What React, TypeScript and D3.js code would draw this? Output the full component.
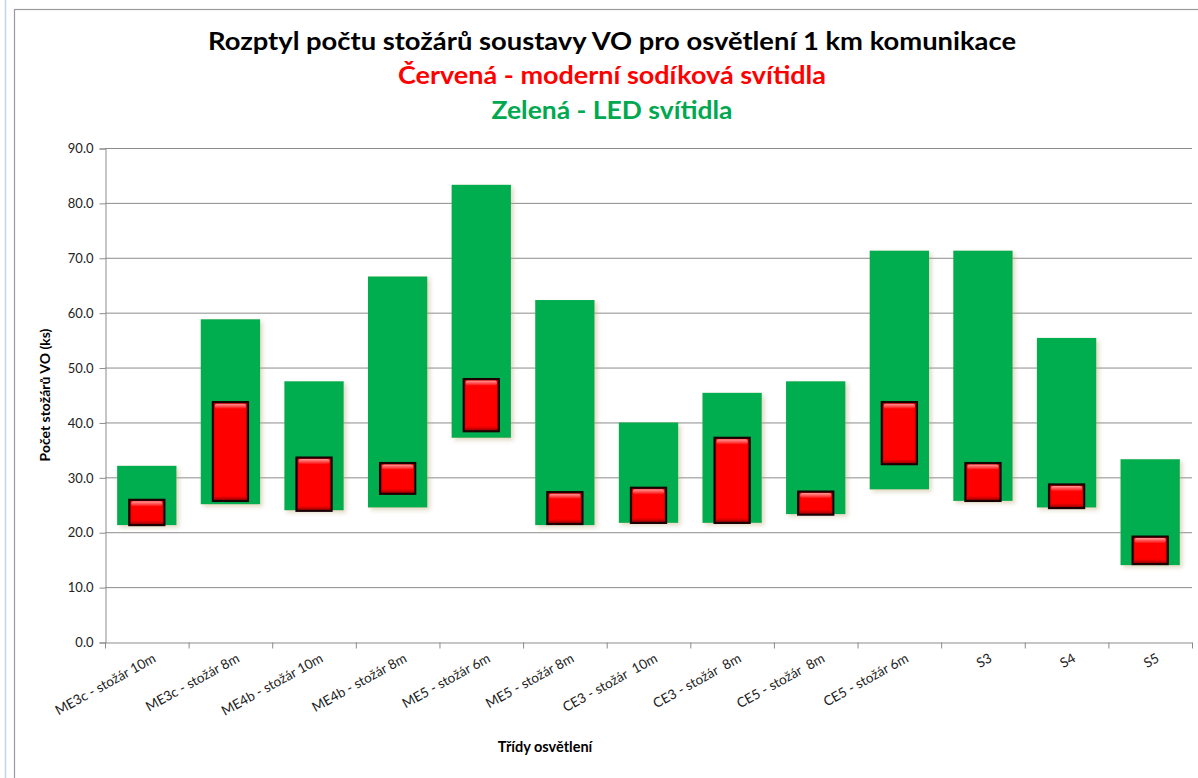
import React, { useEffect, useRef } from "react";
import * as d3 from "d3";

// Categories (light classes / pole heights)
const categories = [
  "ME3c - stožár 10m",
  "ME3c - stožár 8m",
  "ME4b - stožár 10m",
  "ME4b - stožár 8m",
  "ME5 - stožár 6m",
  "ME5 - stožár 8m",
  "CE3 - stožár  10m",
  "CE3 - stožár  8m",
  "CE5 - stožár  8m",
  "CE5 - stožár 6m",
  "S3",
  "S4",
  "S5",
];

// Green = LED luminaires (range min..max)
const ledMin = [21.3, 25.1, 24.0, 24.5, 37.2, 21.3, 21.7, 21.7, 23.3, 27.8, 25.7, 24.5, 14.0];
const ledMax = [32.1, 58.8, 47.5, 66.6, 83.3, 62.3, 40.0, 45.4, 47.5, 71.3, 71.3, 55.4, 33.3];

// Red = modern sodium luminaires (range min..max)
const sodiumMin = [21.3, 25.7, 23.9, 27.0, 38.4, 21.5, 21.7, 21.7, 23.2, 32.4, 25.7, 24.4, 14.2];
const sodiumMax = [25.9, 43.7, 33.6, 32.6, 47.9, 27.3, 28.1, 37.2, 27.4, 43.7, 32.6, 28.7, 19.2];

const yTicks = [0, 10, 20, 30, 40, 50, 60, 70, 80, 90];

const FONT = "Lato, 'Open Sans', sans-serif";

function drawChart(svgEl: SVGSVGElement) {
  const width = 1198,
    height = 778,
    left = 105,
    right = 1192,
    top = 148,
    bottom = 642;

  const svg = d3.select(svgEl).attr("width", width).attr("height", height);
  svg.selectAll("*").remove();

  const defs = svg.append("defs");

  // soft beige shadow behind the green bars
  const shadow = defs.append("filter").attr("id", "greenShadow").attr("x", "-20%").attr("y", "-20%").attr("width", "140%").attr("height", "140%");
  shadow
    .append("feDropShadow")
    .attr("dx", 2.5)
    .attr("dy", 2.5)
    .attr("stdDeviation", 2)
    .attr("flood-color", "#b8a878")
    .attr("flood-opacity", 0.45);

  // highlight on top of red bars
  const hl = defs.append("linearGradient").attr("id", "redTop").attr("x1", 0).attr("y1", 0).attr("x2", 0).attr("y2", 1);
  hl.append("stop").attr("offset", "0%").attr("stop-color", "#ff9a9a");
  hl.append("stop").attr("offset", "100%").attr("stop-color", "#ff0d0d");

  const sh = defs.append("linearGradient").attr("id", "redBottom").attr("x1", 0).attr("y1", 0).attr("x2", 0).attr("y2", 1);
  sh.append("stop").attr("offset", "0%").attr("stop-color", "#ff0000");
  sh.append("stop").attr("offset", "100%").attr("stop-color", "#a40000");

  const side = defs.append("linearGradient").attr("id", "redSide").attr("x1", 0).attr("y1", 0).attr("x2", 1).attr("y2", 0);
  side.append("stop").attr("offset", "0%").attr("stop-color", "#c00000");
  side.append("stop").attr("offset", "8%").attr("stop-color", "#ff0000");
  side.append("stop").attr("offset", "92%").attr("stop-color", "#ff0000");
  side.append("stop").attr("offset", "100%").attr("stop-color", "#c00000");

  // background + chart frame
  svg.append("rect").attr("width", width).attr("height", height).attr("fill", "#ffffff");
  svg.append("line").attr("x1", 5.5).attr("x2", 5.5).attr("y1", 0).attr("y2", height).attr("stroke", "#c5d3e6").attr("stroke-width", 1.5);
  svg
    .append("rect")
    .attr("x", 14.5)
    .attr("y", 9.5)
    .attr("width", width)
    .attr("height", height)
    .attr("fill", "#ffffff")
    .attr("stroke", "#9a9a9a")
    .attr("stroke-width", 1.2);

  // scales
  const x = d3.scaleBand().domain(categories).range([left, right]).padding(0);
  const y = d3.scaleLinear().domain([0, 90]).range([bottom, top]);
  const bw = x.bandwidth();
  const greenW = bw * 0.71;
  const redW = bw * 0.42;

  // gridlines
  svg
    .append("g")
    .selectAll("line")
    .data(yTicks.filter((d) => d > 0))
    .enter()
    .append("line")
    .attr("x1", left)
    .attr("x2", right)
    .attr("y1", (d) => y(d) + 0.5)
    .attr("y2", (d) => y(d) + 0.5)
    .attr("stroke", "#8c8c8c")
    .attr("stroke-width", 1);

  // y axis
  const yAxis = d3
    .axisLeft(y)
    .tickValues(yTicks)
    .tickFormat((d) => d3.format(".1f")(d as number))
    .tickSize(6)
    .tickPadding(6);
  const gy = svg.append("g").attr("transform", "translate(" + (left + 0.5) + ",0.5)").call(yAxis);
  gy.select(".domain").attr("stroke", "#8c8c8c");
  gy.selectAll(".tick line").attr("stroke", "#8c8c8c");
  gy.selectAll(".tick text").attr("font-family", FONT).attr("font-size", "13px").attr("fill", "#222");

  // x axis
  const xAxis = d3.axisBottom(x).tickValues([]).tickSizeOuter(0);
  const gx = svg.append("g").attr("transform", "translate(0," + (bottom + 0.5) + ")").call(xAxis);
  gx.select(".domain").attr("stroke", "#8c8c8c");
  const boundaries = categories.map((c) => x(c) as number).concat([right]);
  gx.selectAll(".btick")
    .data(boundaries)
    .enter()
    .append("line")
    .attr("x1", (d) => d + 0.5)
    .attr("x2", (d) => d + 0.5)
    .attr("y1", 0)
    .attr("y2", 6)
    .attr("stroke", "#8c8c8c");

  // x labels, rotated
  svg
    .append("g")
    .selectAll("text")
    .data(categories)
    .enter()
    .append("text")
    .attr("transform", (d) => "translate(" + ((x(d) as number) + bw / 2 + 10) + "," + (bottom + 19) + ") rotate(-29)")
    .attr("text-anchor", "end")
    .attr("font-family", FONT)
    .attr("font-size", "13.5px")
    .attr("fill", "#222")
    .style("white-space", "pre")
    .text((d) => d);

  // green LED range bars
  svg
    .append("g")
    .selectAll("rect")
    .data(categories)
    .enter()
    .append("rect")
    .attr("x", (d) => (x(d) as number) + (bw - greenW) / 2)
    .attr("y", (d, i) => y(ledMax[i]))
    .attr("width", greenW)
    .attr("height", (d, i) => y(ledMin[i]) - y(ledMax[i]))
    .attr("fill", "#00ad4f")
    .attr("filter", "url(#greenShadow)");

  // red sodium range bars
  const red = svg
    .append("g")
    .selectAll("g")
    .data(categories)
    .enter()
    .append("g")
    .attr("transform", (d, i) => "translate(" + ((x(d) as number) + (bw - redW) / 2) + "," + y(sodiumMax[i]) + ")");

  red
    .append("rect")
    .attr("width", redW)
    .attr("height", (d, i) => y(sodiumMin[i]) - y(sodiumMax[i]))
    .attr("fill", "url(#redSide)");
  red
    .append("rect")
    .attr("x", 2)
    .attr("y", 1.5)
    .attr("width", redW - 4)
    .attr("height", 5)
    .attr("rx", 2)
    .attr("fill", "url(#redTop)");
  red
    .append("rect")
    .attr("x", 1)
    .attr("y", (d, i) => y(sodiumMin[i]) - y(sodiumMax[i]) - 5)
    .attr("width", redW - 2)
    .attr("height", 4)
    .attr("fill", "url(#redBottom)");
  red
    .append("rect")
    .attr("width", redW)
    .attr("height", (d, i) => y(sodiumMin[i]) - y(sodiumMax[i]))
    .attr("fill", "none")
    .attr("stroke", "#1a0000")
    .attr("stroke-width", 2.2);

  // titles
  const titles = [
    { text: "Rozptyl počtu stožárů soustavy VO pro osvětlení 1 km komunikace", color: "#000000", y: 50, len: 808 },
    { text: "Červená - moderní sodíková svítidla", color: "#ff0000", y: 84, len: 428 },
    { text: "Zelená - LED svítidla", color: "#00a850", y: 119, len: 241 },
  ];
  svg
    .append("g")
    .selectAll("text")
    .data(titles)
    .enter()
    .append("text")
    .attr("x", 612)
    .attr("y", (d) => d.y)
    .attr("text-anchor", "middle")
    .attr("font-family", FONT)
    .attr("font-weight", "bold")
    .attr("font-size", "24px")
    .attr("fill", (d) => d.color)
    .attr("textLength", (d) => d.len)
    .attr("lengthAdjust", "spacingAndGlyphs")
    .text((d) => d.text);

  // axis titles
  svg
    .append("text")
    .attr("transform", "translate(50," + (top + bottom) / 2 + ") rotate(-90)")
    .attr("text-anchor", "middle")
    .attr("font-family", FONT)
    .attr("font-weight", "bold")
    .attr("font-size", "14px")
    .attr("fill", "#000")
    .text("Počet stožárů VO (ks)");

  svg
    .append("text")
    .attr("x", 545)
    .attr("y", 752)
    .attr("text-anchor", "middle")
    .attr("font-family", FONT)
    .attr("font-weight", "bold")
    .attr("font-size", "14.5px")
    .attr("fill", "#000")
    .text("Třídy osvětlení");
}

export default function App() {
  const ref = useRef<SVGSVGElement>(null);
  useEffect(() => {
    if (ref.current) drawChart(ref.current);
  }, []);
  return (
    <div style={{ position: "fixed", left: 0, top: 0 }}>
      <svg ref={ref} style={{ display: "block" }}></svg>
    </div>
  );
}
